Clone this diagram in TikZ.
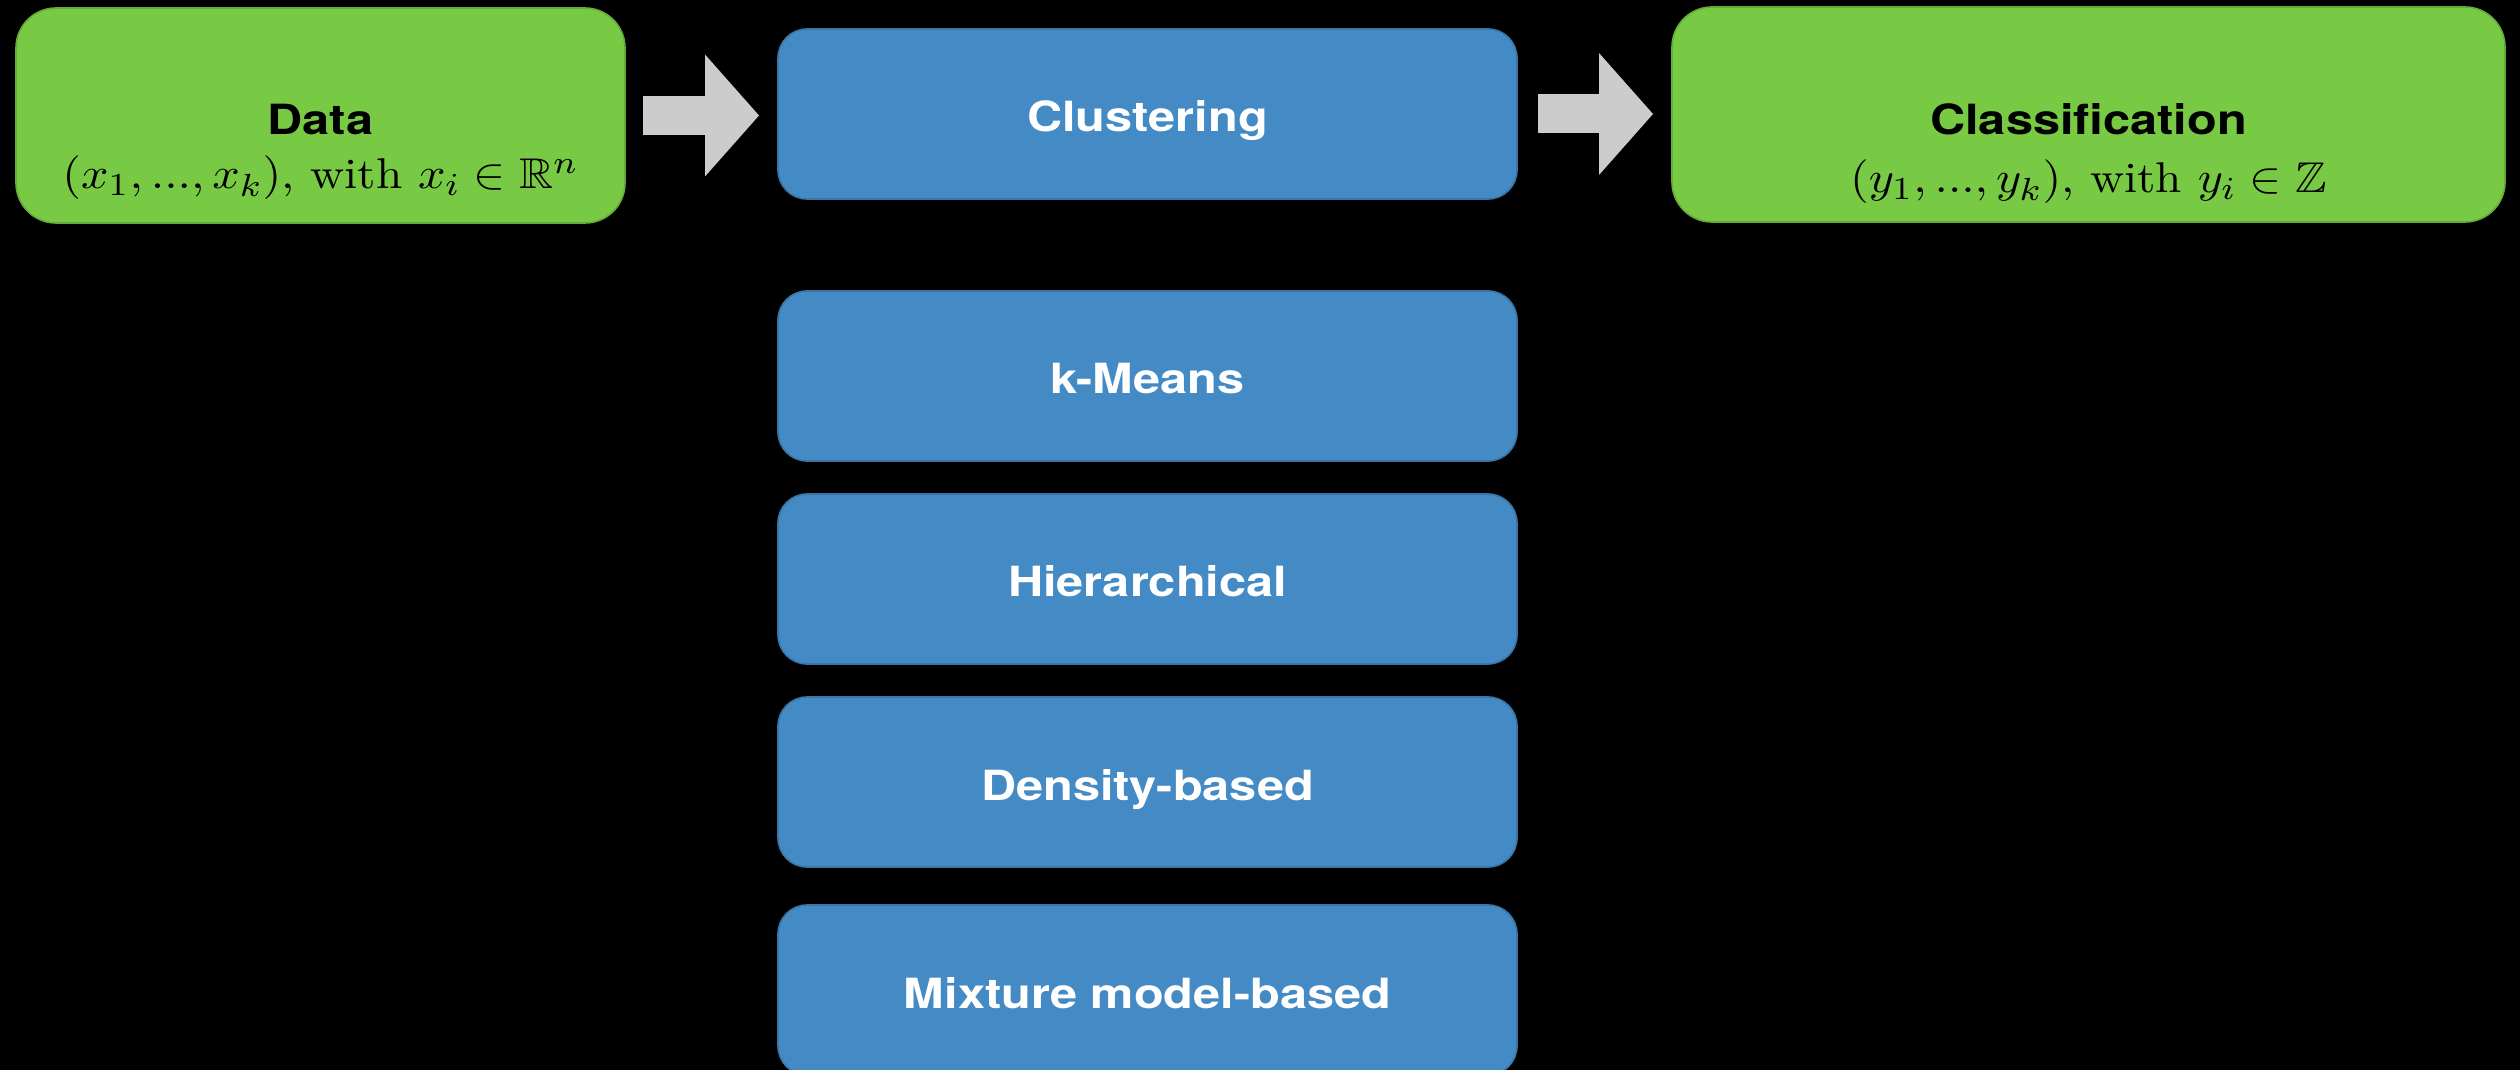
\documentclass[tikz,border=0pt]{standalone}
\usepackage{xcolor}
\usepackage{amsmath}
\usepackage{amssymb}
\usepackage{graphicx}
\usepackage{fontspec}
\usepackage{tikz}
\usetikzlibrary{arrows.meta}
\newfontfamily\heros{TeX Gyre Heros}
\definecolor{leafgreen}{HTML}{78C944}
\definecolor{steelblue}{HTML}{448AC5}
\definecolor{arrowgray}{HTML}{CCCCCC}
\newcommand{\wider}[2][1.17]{\scalebox{#1}[1]{#2}}

\begin{document}
\begin{tikzpicture}[x=0.25pt, y=-0.25pt]
\tikzstyle{greenbox}=[rectangle, rounded corners=10pt, fill=leafgreen, draw=leafgreen!85!black, line width=0.4pt, minimum height=53.75pt, inner sep=0pt, outer sep=0pt]
\tikzstyle{bluebox}=[rectangle, rounded corners=7.25pt, fill=steelblue, draw=steelblue!85!black, line width=0.4pt, minimum width=184.75pt, minimum height=42.5pt, inner sep=0pt, outer sep=0pt, text=white, font=\heros\bfseries\fontsize{10.4pt}{12pt}\selectfont, text height=9pt, text depth=0pt]
\tikzstyle{title}=[anchor=base, inner sep=0pt, font=\heros\bfseries\fontsize{10.4pt}{12pt}\selectfont]
\tikzstyle{formula}=[anchor=base, inner sep=0pt, font=\fontsize{10.75pt}{13pt}\selectfont]
\tikzstyle{fatarrow}=[draw=arrowgray, line width=9.75pt, -{Triangle[length=13.5pt, width=30.5pt, line width=0pt]}]

\fill[black] (0,0) rectangle (2520,1070);
\useasboundingbox (0,0) rectangle (2520,1070);

% top row
\node[greenbox, minimum width=152.25pt] (data) at (320.5,115.5) {};
\node[title] (data-title) at (320.5,135) {\wider{Data}};
\node[formula] (data-math) at (320.5,189) {\wider[1.1]{$(x_1, ..., x_k)\text{, with }x_i \in \mathbb{R}^n$}};

\node[bluebox] (clust) at (1147.5,114) {\wider{Clustering}};

\node[greenbox, minimum width=208.25pt] (class) at (2088.5,114.5) {};
\node[title] (class-title) at (2088.5,135) {\wider{Classification}};
\node[formula] (class-math) at (2088.5,193) {\wider[1.1]{$(y_1, ..., y_k)\text{, with }y_i \in \mathbb{Z}$}};

% methods
\node[bluebox] (kmeans) at (1147.5,376) {\wider{k-Means}};
\node[bluebox] (hier) at (1147.5,579) {\wider{Hierarchical}};
\node[bluebox] (density) at (1147.5,782) {\wider{Density-based}};
\node[bluebox] (mixture) at (1147.5,990) {\wider{Mixture model-based}};

\path
(data.east) edge[fatarrow, shorten <=4.5pt, shorten >=4.75pt] (data.east -| clust.west)
(clust.east) edge[fatarrow, shorten <=5.25pt, shorten >=4.75pt] (clust.east -| class.west);

\end{tikzpicture}
\end{document}
